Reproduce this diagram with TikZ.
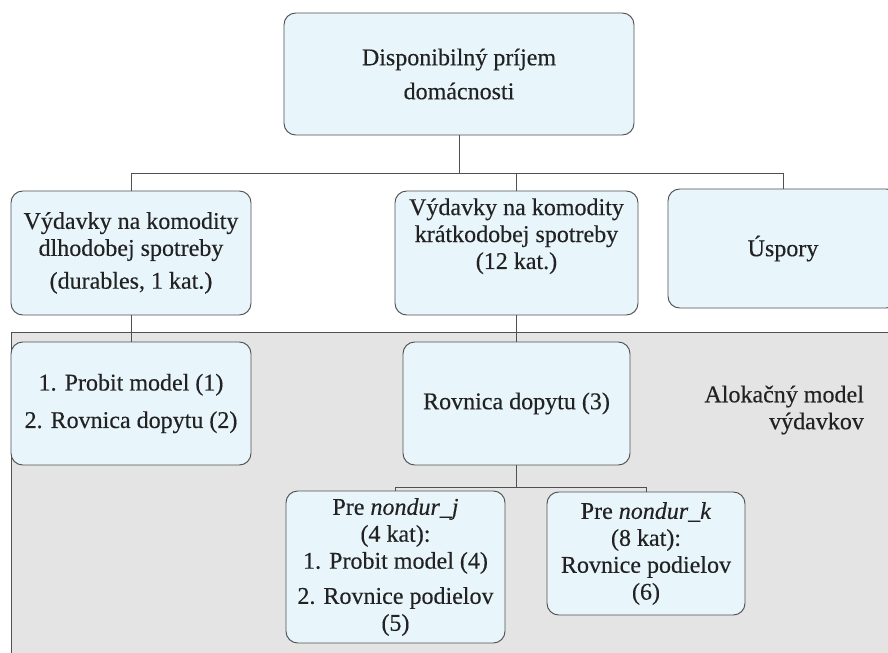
\documentclass[tikz,border=0pt]{standalone}
\usepackage{fontspec}
\setmainfont{Liberation Serif}[FakeBold=0.35]
\usepackage{tikz}
\usetikzlibrary{calc,positioning}
\definecolor{svetloModra}{HTML}{E8F6FC}
\definecolor{tmavoSeda}{HTML}{505050}
\definecolor{sivaPlocha}{HTML}{E4E4E4}
\definecolor{textSeda}{HTML}{222222}

\begin{document}
\begin{tikzpicture}[x=0.03cm, y=-0.03cm,
  every node/.style={font=\fontsize{20.5}{23}\selectfont,text=textSeda},
  krabica/.style={draw=tmavoSeda,fill=svetloModra,rounded corners=10pt,
                  line width=0.8pt,align=center,inner sep=2pt},
  spoj/.style={draw=tmavoSeda,line width=0.8pt}]
\clip (0,0) rectangle (888,653);
% sediva oblast alokacneho modelu
\fill[sivaPlocha] (11,332) rectangle (900,660);
\draw[spoj] (900,332) -- (11,332) -- (11,660);
\node[anchor=east,align=right] (alok) at (868,410) {Alokačný model\\výdavkov};

\node[krabica,minimum width=10.5cm,minimum height=3.66cm] (prijem) at (459,74)
  {Disponibilný príjem\\[6pt]domácnosti};
\node[krabica,minimum width=7.2cm,minimum height=3.72cm] (dur) at (131,253)
  {Výdavky na komodity\\dlhodobej spotreby\\[5pt](durables, 1 kat.)};
\node[krabica,minimum width=7.29cm,minimum height=3.72cm] (nondur) at (516.5,253)
  {Výdavky na komodity\\krátkodobej spotreby\\(12 kat.)\\[10pt]\mbox{}};
\node[krabica,minimum width=6.9cm,minimum height=3.57cm] (uspory) at (783,248.5)
  {Úspory};
\node[krabica,minimum width=7.2cm,minimum height=3.69cm] (probit) at (131,403.5)
  {1. Probit model (1)\\[9pt]2. Rovnica dopytu (2)};
\node[krabica,minimum width=6.81cm,minimum height=3.69cm] (rovnica) at (516.5,403.5)
  {Rovnica dopytu (3)};
\node[krabica,minimum width=6.57cm,minimum height=4.56cm] (nj) at (395.5,567)
  {Pre \textit{nondur\_j}\\(4 kat):\\1. Probit model (4)\\[7pt]2. Rovnice podielov\\(5)};
\node[krabica,minimum width=5.94cm,minimum height=3.69cm] (nk) at (646,553.5)
  {Pre \textit{nondur\_k}\\(8 kat):\\Rovnice podielov\\(6)};

% prepojenia
\coordinate (h1) at ($(prijem.south)+(0,38)$);
\draw[spoj] (prijem.south) -- (h1);
\draw[spoj] (dur.north) -- (dur.north |- h1) -- (uspory.north |- h1) -- (uspory.north);
\draw[spoj] (nondur.north) -- (nondur.north |- h1);
\draw[spoj] (dur) -- (probit);
\draw[spoj] (nondur) -- (rovnica);
\coordinate (h2) at ($(rovnica.south)+(0,22)$);
\draw[spoj] (rovnica.south) -- (h2);
\draw[spoj] (nj.north) -- (nj.north |- h2) -- (nk.north |- h2) -- (nk.north);
\end{tikzpicture}
\end{document}
